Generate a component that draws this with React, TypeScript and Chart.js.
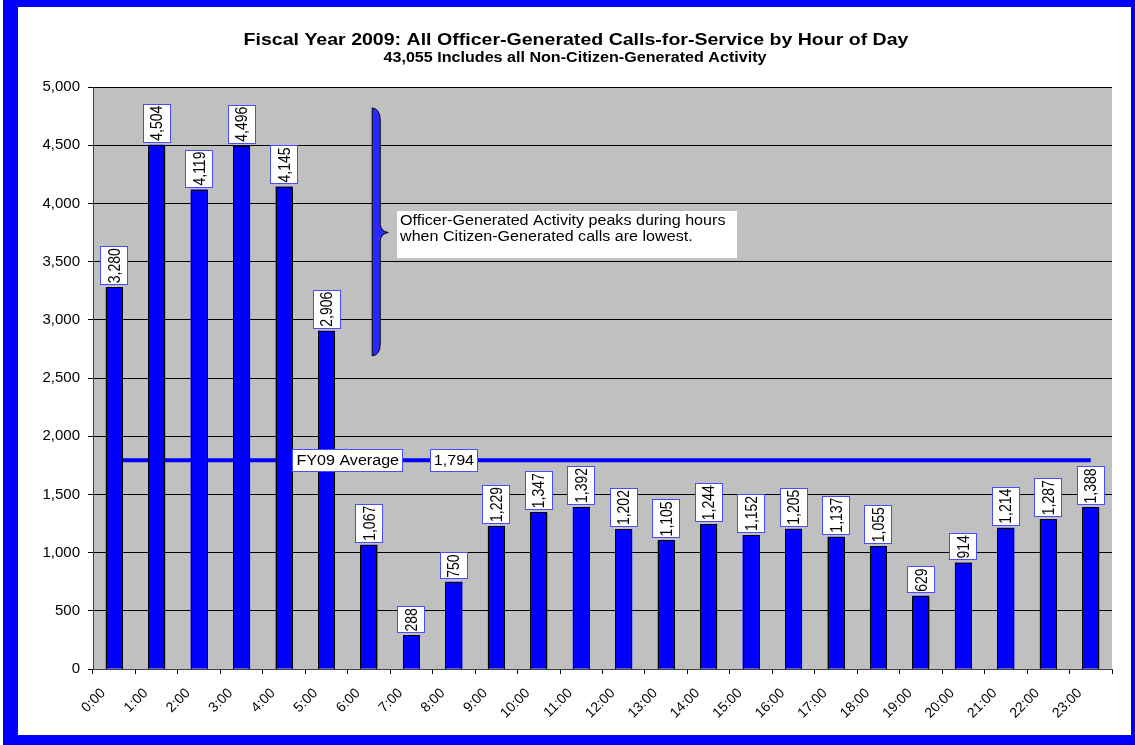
import React, { useEffect, useRef } from 'react';
import { Chart, registerables } from 'chart.js';

Chart.register(...registerables);

const hours = ['0:00', '1:00', '2:00', '3:00', '4:00', '5:00', '6:00', '7:00', '8:00', '9:00', '10:00', '11:00',
  '12:00', '13:00', '14:00', '15:00', '16:00', '17:00', '18:00', '19:00', '20:00', '21:00', '22:00', '23:00'];
const calls = [3280, 4504, 4119, 4496, 4145, 2906, 1067, 288, 750, 1229, 1347, 1392,
  1202, 1105, 1244, 1152, 1205, 1137, 1055, 629, 914, 1214, 1287, 1388];
const averageValue = 1794;
const averageLine = hours.map(() => averageValue);
const yMin = 0;
const yMax = 5000;
const yStep = 500;

const titleText = 'Fiscal Year 2009: All Officer-Generated Calls-for-Service by Hour of Day';
const subtitleText = '43,055 Includes all Non-Citizen-Generated Activity';
const averageName = 'FY09 Average';
const noteLines = ['Officer-Generated Activity peaks during hours', 'when Citizen-Generated calls are lowest.'];

// annotation anchors (category index units / value units)
const braceX = 6.17;
const braceTop = 4820;
const braceBottom = 2690;
const braceTip = 3750;
const noteLeftX = 6.66;
const noteTopY = 3935;
const avgNameX = 5.5;
const avgValueX = 8;

const FONT = '"Liberation Sans", Arial, Helvetica, sans-serif';
const BLUE = '#0000ff';
const BOX_BORDER = '#4a4aff';
const STRETCH = 1.15;

const fmt = (v: number) => Number(v).toLocaleString('en-US');

function catPixel(scale: any, v: number) {
  const p0 = scale.getPixelForValue(0);
  const p1 = scale.getPixelForValue(1);
  return p0 + (p1 - p0) * v;
}

function box(ctx: CanvasRenderingContext2D, cx: number, cy: number, w: number, h: number) {
  const l = Math.round(cx - w / 2);
  const t = Math.round(cy - h / 2);
  ctx.fillStyle = '#ffffff';
  ctx.fillRect(l, t, Math.round(w), Math.round(h));
  ctx.strokeStyle = BOX_BORDER;
  ctx.lineWidth = 1;
  ctx.strokeRect(l + 0.5, t + 0.5, Math.round(w) - 1, Math.round(h) - 1);
}

function stretchedText(ctx: CanvasRenderingContext2D, text: string, x: number, y: number, sx: number) {
  ctx.save();
  ctx.translate(x, y);
  ctx.scale(sx, 1);
  ctx.fillText(text, 0, 0);
  ctx.restore();
}

const framePlugin = {
  id: 'frame',
  beforeDraw(chart: any) {
    const { ctx, chartArea: a, width, height } = chart;
    ctx.save();
    ctx.fillStyle = '#ffffff';
    ctx.fillRect(0, 0, width, height);
    ctx.fillStyle = BLUE;
    ctx.fillRect(3, 0, width - 3, height);
    ctx.fillStyle = '#ffffff';
    ctx.fillRect(18, 7, width - 18 - 4, height - 7 - 10);
    ctx.fillStyle = '#c0c0c0';
    ctx.fillRect(a.left, a.top, a.right - a.left, a.bottom - a.top);
    ctx.fillStyle = '#000000';
    ctx.textAlign = 'center';
    ctx.textBaseline = 'middle';
    ctx.font = `bold 17px ${FONT}`;
    stretchedText(ctx, titleText, 576, 40, STRETCH);
    ctx.font = `bold 14px ${FONT}`;
    stretchedText(ctx, subtitleText, 575, 58, STRETCH);
    ctx.restore();
  },
};

const labelsPlugin = {
  id: 'labels',
  afterDatasetsDraw(chart: any) {
    const { ctx } = chart;
    const xs = chart.scales.x;
    const ys = chart.scales.y;
    ctx.save();

    const meta = chart.getDatasetMeta(0);

    // bar outlines
    ctx.strokeStyle = '#000000';
    ctx.lineWidth = 1;
    meta.data.forEach((bar: any) => {
      const l = Math.round(bar.x - bar.width / 2) + 0.5;
      const r = Math.round(bar.x + bar.width / 2) - 0.5;
      const t = Math.round(bar.y) + 0.5;
      const b = Math.round(bar.base);
      ctx.beginPath();
      ctx.moveTo(l, b);
      ctx.lineTo(l, t);
      ctx.lineTo(r, t);
      ctx.lineTo(r, b);
      ctx.stroke();
    });

    // bar value labels
    ctx.font = `14px ${FONT}`;
    meta.data.forEach((bar: any, i: number) => {
      const text = fmt(calls[i]);
      const tw = ctx.measureText(text).width;
      const bw = 28;
      const bh = tw + 4;
      const cy = bar.y - 2 - bh / 2;
      box(ctx, bar.x, cy, bw, bh);
      ctx.save();
      ctx.translate(bar.x, cy);
      ctx.scale(STRETCH, 1);
      ctx.rotate(-Math.PI / 2);
      ctx.fillStyle = '#000000';
      ctx.textAlign = 'center';
      ctx.textBaseline = 'middle';
      ctx.fillText(text, 0, 1);
      ctx.restore();
    });

    // average labels
    const ay = ys.getPixelForValue(averageValue);
    ctx.font = `14px ${FONT}`;
    ctx.textAlign = 'center';
    ctx.textBaseline = 'middle';
    const nx = catPixel(xs, avgNameX);
    box(ctx, nx, ay, ctx.measureText(averageName).width * STRETCH + 8, 23);
    ctx.fillStyle = '#000000';
    stretchedText(ctx, averageName, nx, ay + 1, STRETCH);
    const vx = catPixel(xs, avgValueX);
    const vt = fmt(averageValue);
    box(ctx, vx, ay, ctx.measureText(vt).width * STRETCH + 8, 23);
    ctx.fillStyle = '#000000';
    stretchedText(ctx, vt, vx, ay + 1, STRETCH);

    // brace
    const bx = catPixel(xs, braceX);
    const bt = ys.getPixelForValue(braceTop);
    const bb = ys.getPixelForValue(braceBottom);
    const bm = ys.getPixelForValue(braceTip);
    const L = bx - 4;
    const R = bx + 4;
    ctx.beginPath();
    ctx.moveTo(L, bt);
    ctx.quadraticCurveTo(R, bt + 1, R, bt + 12);
    ctx.lineTo(R, bm - 8);
    ctx.quadraticCurveTo(R + 1, bm - 1, R + 8, bm);
    ctx.quadraticCurveTo(R + 1, bm + 1, R, bm + 8);
    ctx.lineTo(R, bb - 12);
    ctx.quadraticCurveTo(R, bb - 1, L, bb);
    ctx.lineTo(L, bt);
    ctx.closePath();
    ctx.fillStyle = '#2a2aff';
    ctx.fill();
    ctx.strokeStyle = '#000000';
    ctx.lineWidth = 1;
    ctx.stroke();

    // note box
    const nl = Math.round(catPixel(xs, noteLeftX));
    const nt = Math.round(ys.getPixelForValue(noteTopY));
    ctx.fillStyle = '#ffffff';
    ctx.fillRect(nl, nt, 340, 47);
    ctx.fillStyle = '#000000';
    ctx.font = `14px ${FONT}`;
    ctx.textAlign = 'left';
    ctx.textBaseline = 'middle';
    noteLines.forEach((line, i) => {
      stretchedText(ctx, line, nl + 3, nt + 10 + i * 16, STRETCH);
    });

    ctx.restore();
  },
};

export default function App() {
  const ref = useRef<HTMLCanvasElement | null>(null);

  useEffect(() => {
    document.body.style.margin = '0';
    const canvas = ref.current;
    if (!canvas) return;
    const chart = new Chart(canvas, {
      type: 'bar',
      data: {
        labels: hours,
        datasets: [
          {
            type: 'bar',
            label: 'Calls',
            data: calls,
            backgroundColor: BLUE,
            borderWidth: 0,
            barThickness: 17,
            inflateAmount: 0,
            order: 1,
          } as any,
          {
            type: 'line',
            label: averageName,
            data: averageLine,
            borderColor: BLUE,
            borderWidth: 4,
            pointRadius: 0,
            fill: false,
            order: 2,
          } as any,
        ],
      },
      options: {
        animation: false,
        responsive: false,
        maintainAspectRatio: false,
        layout: { padding: { left: 18, top: 87, right: 23, bottom: 0 } },
        plugins: {
          legend: { display: false },
          title: { display: false },
          tooltip: { enabled: false },
        },
        scales: {
          x: {
            offset: true,
            grid: {
              offset: true,
              drawOnChartArea: false,
              drawTicks: true,
              tickLength: 5,
              tickColor: '#000000',
              color: '#000000',
            },
            border: { display: true, color: '#404040', width: 1 },
            ticks: {
              color: '#000000',
              font: { family: FONT, size: 14 },
              maxRotation: 45,
              minRotation: 45,
              autoSkip: false,
              labelOffset: -11,
              padding: 11,
            },
            afterFit: (scale: any) => {
              scale.height = 76;
            },
          },
          y: {
            min: yMin,
            max: yMax,
            ticks: {
              stepSize: yStep,
              color: '#000000',
              font: { family: FONT, size: 15 },
              padding: 8,
              callback: (v: any) => fmt(Number(v)),
            },
            grid: {
              color: '#000000',
              lineWidth: 1,
              tickLength: 5,
              tickColor: '#000000',
            },
            border: { display: true, color: '#404040', width: 1 },
            afterFit: (scale: any) => {
              scale.width = 75;
            },
          },
        },
      },
      plugins: [framePlugin, labelsPlugin],
    });
    return () => chart.destroy();
  }, []);

  return (
    <div style={{ position: 'absolute', left: 0, top: 0, width: 1135, height: 745 }}>
      <canvas ref={ref} width={1135} height={745} style={{ display: 'block', width: 1135, height: 745 }} />
    </div>
  );
}
